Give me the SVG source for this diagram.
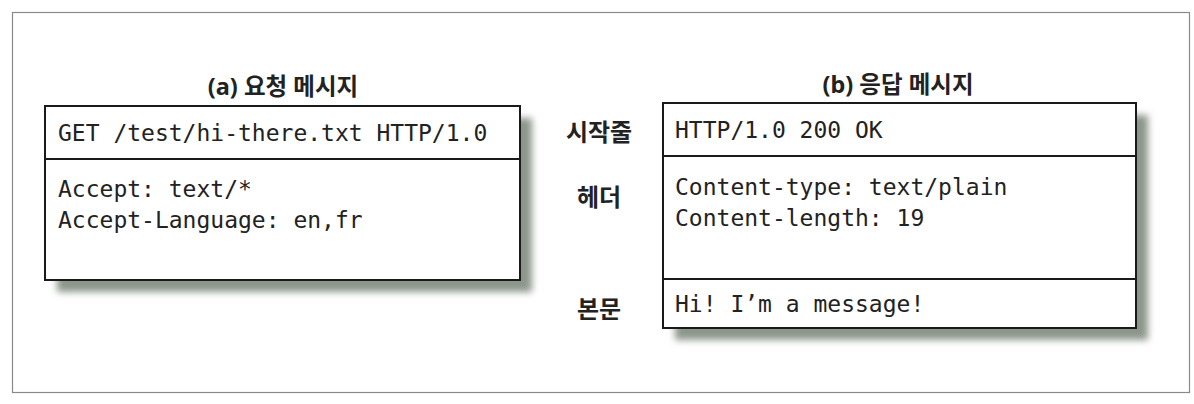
<svg xmlns="http://www.w3.org/2000/svg" width="1194" height="404" viewBox="0 0 1194 404">
<defs>
<filter id="blur" x="-10%" y="-10%" width="120%" height="130%">
<feGaussianBlur stdDeviation="3.5"/>
</filter>
</defs>
<style>
.frame{fill:#ffffff;stroke:#8a8a8a;stroke-width:1.2}
.box{fill:#ffffff;stroke:#1a1a1a;stroke-width:2}
.div{stroke:#1a1a1a;stroke-width:2}
.shadow{fill:#8c968b;filter:url(#blur)}
.mono{font-family:"DejaVu Sans Mono","Liberation Mono",monospace;font-size:23px;fill:#222}
.title{font-family:"Noto Sans","Noto Sans CJK KR",sans-serif;font-size:23.5px;font-weight:700;fill:#222;text-anchor:middle}
.label{font-family:"Noto Sans CJK KR",sans-serif;font-size:24px;font-weight:700;fill:#222;text-anchor:middle}
</style>
<rect width="1194" height="404" fill="#ffffff"/>
<rect class="frame" x="12.5" y="12.5" width="1177" height="380"/>

<g id="request">
<rect class="shadow" x="57" y="118" width="475" height="174"/>
<rect class="box" x="45" y="106" width="475" height="174"/>
<line class="div" x1="45" y1="159" x2="520" y2="159"/>
<text class="title" x="283" y="95">(a) 요청 메시지</text>
<text class="mono" x="58" y="141">GET /test/hi-there.txt HTTP/1.0</text>
<text class="mono" x="58" y="197">Accept: text/*</text>
<text class="mono" x="58" y="228">Accept-Language: en,fr</text>
</g>

<g id="response">
<rect class="shadow" x="675" y="115" width="473" height="225"/>
<rect class="box" x="663" y="103" width="473" height="225"/>
<line class="div" x1="663" y1="156" x2="1136" y2="156"/>
<line class="div" x1="663" y1="279" x2="1136" y2="279"/>
<text class="title" x="898" y="93">(b) 응답 메시지</text>
<text class="mono" x="675" y="138">HTTP/1.0 200 OK</text>
<text class="mono" x="675" y="195">Content-type: text/plain</text>
<text class="mono" x="675" y="226">Content-length: 19</text>
<text class="mono" x="675" y="312">Hi! I’m a message!</text>
</g>

<g id="labels">
<text class="label" x="599" y="141">시작줄</text>
<text class="label" x="599" y="206">헤더</text>
<text class="label" x="599" y="318">본문</text>
</g>

<g id="connectors"></g>
</svg>
